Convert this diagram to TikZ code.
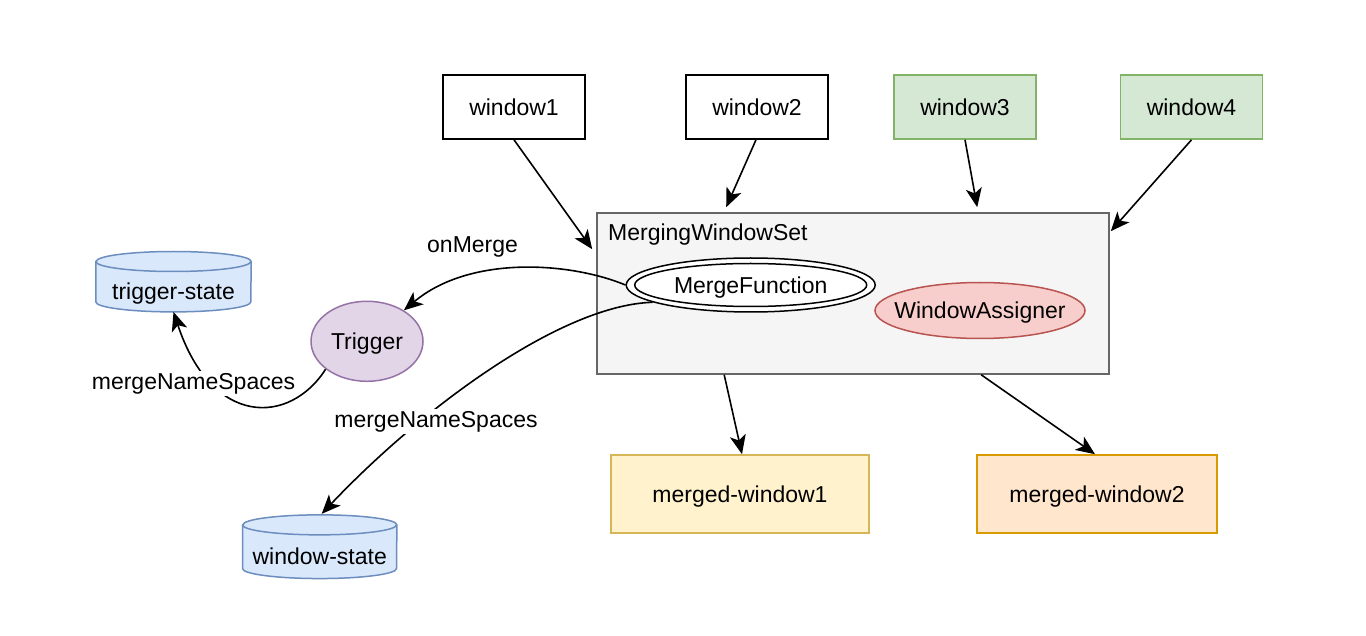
\documentclass[tikz,border=0pt]{standalone}
\usepackage{fontspec}
\setmainfont{Liberation Sans}
\usetikzlibrary{shapes.geometric,arrows.meta,calc}
\definecolor{grnF}{HTML}{D5E8D4}
\definecolor{grnD}{HTML}{82B366}
\definecolor{gryF}{HTML}{F5F5F5}
\definecolor{gryD}{HTML}{666666}
\definecolor{redF}{HTML}{F8CECC}
\definecolor{redD}{HTML}{B85450}
\definecolor{purF}{HTML}{E1D5E7}
\definecolor{purD}{HTML}{9673A6}
\definecolor{bluF}{HTML}{DAE8FC}
\definecolor{bluD}{HTML}{6C8EBF}
\definecolor{ylwF}{HTML}{FFF2CC}
\definecolor{ylwD}{HTML}{D6B656}
\definecolor{orgF}{HTML}{FFE6CC}
\definecolor{orgD}{HTML}{D79B00}
\begin{document}
\begin{tikzpicture}[x=1pt,y=-1pt,
  every node/.style={font=\fontsize{23}{27}\selectfont, text height=16.5pt, text depth=0pt},
  wbox/.style={draw, line width=1.6pt, minimum width=142pt, minimum height=64pt, inner sep=0pt},
  ell/.style={ellipse, draw, line width=1.5pt, inner sep=0pt},
  cyl/.style={fill=bluF, draw=bluD, line width=1.5pt},
  arr/.style={-{Stealth[length=19pt,width=16pt,inset=5pt]}, line width=1.6pt},
  lbl/.style={fill=white, inner sep=2pt, text depth=5pt, anchor=base}
]
\useasboundingbox (0,0) rectangle (1366,636);
\fill[white] (0,0) rectangle (1366,636);

% top windows
\node[wbox, fill=white] (w1) at (514,107) {window1};
\node[wbox, fill=white] (w2) at (757,107) {window2};
\node[wbox, fill=grnF, draw=grnD] (w3) at (965,107) {window3};
\node[wbox, fill=grnF, draw=grnD] (w4) at (1191.5,107) {window4};

% merging window set container
\node[draw=gryD, fill=gryF, line width=1.6pt, minimum width=512pt, minimum height=161pt, inner sep=0pt] (mws) at (853,293.5) {};
\node[anchor=base west, inner sep=0pt] (mwslab) at (608,241) {MergingWindowSet};

\node[ell, fill=white, minimum width=249pt, minimum height=54pt] (mf) at (750.7,285) {\makebox[0pt]{MergeFunction}};
\draw[line width=1.5pt] (mf.center) ellipse [x radius=116pt, y radius=21.5pt];
\node[ell, fill=redF, draw=redD, minimum width=210pt, minimum height=56pt] (wa) at (980,310.5) {\makebox[0pt]{WindowAssigner}};

% trigger
\node[ell, fill=purF, draw=purD, minimum width=112pt, minimum height=80pt] (trig) at (367,341.3) {\makebox[0pt]{Trigger}};

% trigger-state cylinder
\node[minimum width=155pt, minimum height=40pt, inner sep=0pt] (ts) at (173.5,291.7) {};
\filldraw[cyl] ($(ts.north west)+(0,-10)$) -- ($(ts.south west)+(0,-10)$)
  arc[start angle=180, end angle=360, x radius=77.5pt, y radius=10pt]
  -- ($(ts.north east)+(0,-10)$)
  arc[start angle=0, end angle=180, x radius=77.5pt, y radius=10pt] -- cycle;
\draw[bluD, line width=1.5pt] ($(ts.north west)+(0,-10)$) arc[start angle=180, end angle=360, x radius=77.5pt, y radius=10pt];
\node (tstext) at (ts.center) {trigger-state};

% window-state cylinder
\node[minimum width=154pt, minimum height=43.3pt, inner sep=0pt] (ws) at (319.7,556.7) {};
\filldraw[cyl] ($(ws.north west)+(0,-10)$) -- ($(ws.south west)+(0,-10)$)
  arc[start angle=180, end angle=360, x radius=77pt, y radius=10pt]
  -- ($(ws.north east)+(0,-10)$)
  arc[start angle=0, end angle=180, x radius=77pt, y radius=10pt] -- cycle;
\draw[bluD, line width=1.5pt] ($(ws.north west)+(0,-10)$) arc[start angle=180, end angle=360, x radius=77pt, y radius=10pt];
\node (wstext) at (ws.center) {window-state};

% merged windows
\node[wbox, fill=ylwF, draw=ylwD, minimum width=258pt, minimum height=78pt] (mw1) at (740,494) {merged-window1};
\node[wbox, fill=orgF, draw=orgD, minimum width=240pt, minimum height=78pt] (mw2) at (1097,494) {merged-window2};

% connectors
\draw[arr] (w1.south) -- ($(mws.north west)+(-4,37)$);
\draw[arr] ($(w2.south)+(-1,0)$) -- ($(mws.north west)+(130,-5)$);
\draw[arr] (w3.south) -- ($(mws.north west)+(381,-5)$);
\draw[arr] (w4.south) -- ($(mws.north east)+(1,19)$);
\draw[arr] ($(mws.south west)+(128,0)$) -- ($(mw1.north)+(2,0)$);
\draw[arr] ($(mws.south west)+(385,0)$) -- ($(mw2.north)+(-2,0)$);
\draw[arr] (mf.west) .. controls (570,262) and (470,255) .. (trig.40);
\draw[arr] (mf.190) .. controls (560,305) and (420,410) .. ($(ws.north)+(2,-21)$);
\draw[arr] (trig.214) .. controls (290,425) and (212,428) .. (ts.south);

% labels
\node[anchor=base west, inner sep=0pt] (lonm) at (427,253) {onMerge};
\node[lbl] (lmns1) at (436,427) {mergeNameSpaces};
\node[lbl] (lmns2) at (193.5,389.3) {mergeNameSpaces};
\end{tikzpicture}
\end{document}
